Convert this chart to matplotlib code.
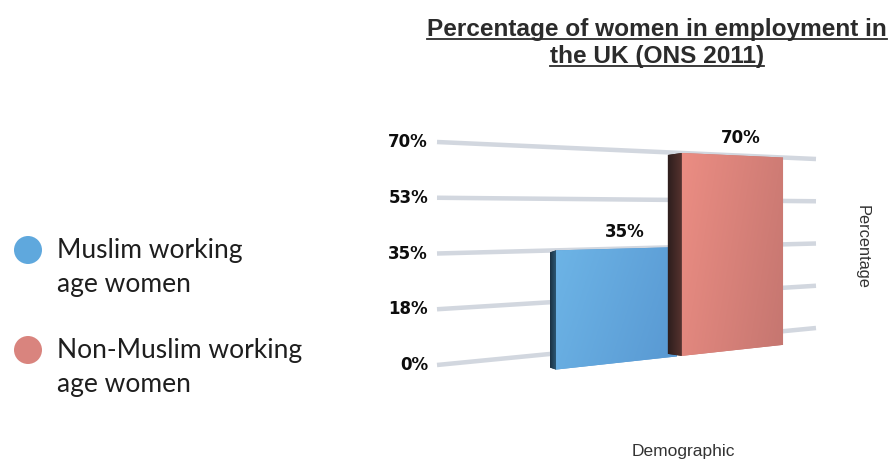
"""Percentage of women in employment in the UK (ONS 2011) - pseudo 3D bar chart."""

import numpy as np
import matplotlib

matplotlib.use("Agg", force=True)
import matplotlib.pyplot as plt
from matplotlib.colors import LinearSegmentedColormap
from matplotlib.lines import Line2D
from matplotlib.patches import Polygon

# ---- data ----
categories = ["Muslim working\nage women", "Non-Muslim working\nage women"]
values = [35, 70]
value_labels = ["35%", "70%"]
tick_values = [0, 17.5, 35, 52.5, 70]
tick_labels = ["0%", "18%", "35%", "53%", "70%"]
bar_colors = ["#5fa8dd", "#d9847e"]
title_lines = ["Percentage of women in employment in", "the UK (ONS 2011)"]

W, H = 894, 461
VMAX = 70.0


def proj(u, v):
    """Map depth position u (0..1) and value v to pixel coords (perspective plane)."""
    u = np.asarray(u, dtype=float)
    v = np.asarray(v, dtype=float)
    x = 437 + 379 * u
    y0 = 365 - 37 * u
    ytop = 142 + 17 * u
    y = y0 + (ytop - y0) * v / VMAX
    return x, y


fig = plt.figure(figsize=(W / 100, H / 100), dpi=100)
ax = fig.add_axes([0, 0, 1, 1])
ax.set_xlim(0, W)
ax.set_ylim(H, 0)
ax.axis("off")

PT = 0.72  # points per pixel at dpi 100

# gridlines
for tv in tick_values:
    xs, ys = proj([0, 1], [tv, tv])
    ax.plot(xs, ys, color="#d2d7df", lw=4.5 * PT, solid_capstyle="butt", zorder=1)

# tick labels
for tv, tl in zip(tick_values, tick_labels):
    x, y = proj(0, tv)
    ax.text(x - 9, y, tl, ha="right", va="center", fontsize=12, family="DejaVu Sans",
            fontweight="bold", color="#0d0d0d", zorder=5)

# bars
bar_spans = [(0.314, 0.633), (0.646, 0.913)]
side_depth = [6, 14]
side_cols = [("#1a3142", "#2c5774"), ("#2e1e1d", "#56332f")]
face_cols = [("#6db4e6", "#5898d2"), ("#eb8d83", "#c57670")]
v_base = -5.5
order = [1, 0]  # draw the far bar first
for i in order:
    u0, u1 = bar_spans[i]
    val = values[i]
    xl, yb_l = proj(u0, v_base)
    _, yt_l = proj(u0, val)
    xr, yb_r = proj(u1, v_base)
    _, yt_r = proj(u1, val)
    d = side_depth[i]
    z = 3 + i * 0.1

    # dark side face
    side = Polygon([(xl - d, yt_l + 2), (xl, yt_l), (xl, yb_l), (xl - d, yb_l - 2)],
                   closed=True, facecolor=side_cols[i][0], edgecolor="none", zorder=z)
    ax.add_patch(side)
    cm_side = LinearSegmentedColormap.from_list("s", [side_cols[i][0], side_cols[i][1]])
    grad = np.linspace(0, 1, 64)[None, :]
    im = ax.imshow(grad, cmap=cm_side, extent=(xl - d, xl, yb_l, yt_l),
                   aspect="auto", zorder=z, interpolation="bilinear")
    im.set_clip_path(side)

    # front face with gradient
    front = Polygon([(xl, yt_l), (xr, yt_r), (xr, yb_r), (xl, yb_l)],
                    closed=True, facecolor=face_cols[i][1], edgecolor="none", zorder=z + 0.05)
    ax.add_patch(front)
    cm_face = LinearSegmentedColormap.from_list("f", [face_cols[i][0], face_cols[i][1]])
    gx, gy = np.meshgrid(np.linspace(0, 1, 80), np.linspace(0, 1, 80))
    im2 = ax.imshow(0.75 * gx + 0.25 * gy, cmap=cm_face,
                    extent=(xl, xr, max(yb_l, yb_r), min(yt_l, yt_r)),
                    aspect="auto", zorder=z + 0.05, interpolation="bilinear", origin="upper")
    im2.set_clip_path(front)

    # value label
    ax.text((xl + xr) / 2 + 8, min(yt_l, yt_r) - 15, value_labels[i], ha="center", va="center",
            fontsize=12, family="DejaVu Sans", fontweight="bold", color="#0d0d0d", zorder=6)

# title with underline
title_y = [36, 63]
title_txts = []
for line, yb in zip(title_lines, title_y):
    t = ax.text(657, yb, line, ha="center", va="baseline", fontsize=17.6,
                family="Liberation Sans", fontweight="bold", color="#2b2b2b", zorder=6)
    title_txts.append(t)

# axis titles
ax.text(862, 247, "Percentage", rotation=-90, ha="center", va="center", fontsize=11.8,
        family="Liberation Sans", color="#333333")
ax.text(683, 451, "Demographic", ha="center", va="center", fontsize=12.5,
        family="Liberation Sans", color="#333333")

# legend
legend_y = [250, 350]
for cat, col, ly in zip(categories, bar_colors, legend_y):
    ax.scatter([28], [ly], s=(28 * PT) ** 2, color=col, edgecolors="none", zorder=5)
    first, second = cat.split("\n")
    ax.text(57, ly, first, ha="left", va="center", fontsize=19, family="Lato", color="#1e1e1e")
    ax.text(57, ly + 34, second, ha="left", va="center", fontsize=19, family="Lato", color="#1e1e1e")

# underline title lines
fig.canvas.draw()
renderer = fig.canvas.get_renderer()
inv = ax.transData.inverted()
for t, yb in zip(title_txts, title_y):
    bb = t.get_window_extent(renderer)
    (x0, _), (x1, _) = inv.transform([(bb.x0, bb.y0), (bb.x1, bb.y1)])
    ax.add_line(Line2D([x0, x1], [yb + 3.5, yb + 3.5], color="#2b2b2b", lw=1.8 * PT, zorder=6))

fig.savefig("out.png", dpi=100)
plt.close(fig)
